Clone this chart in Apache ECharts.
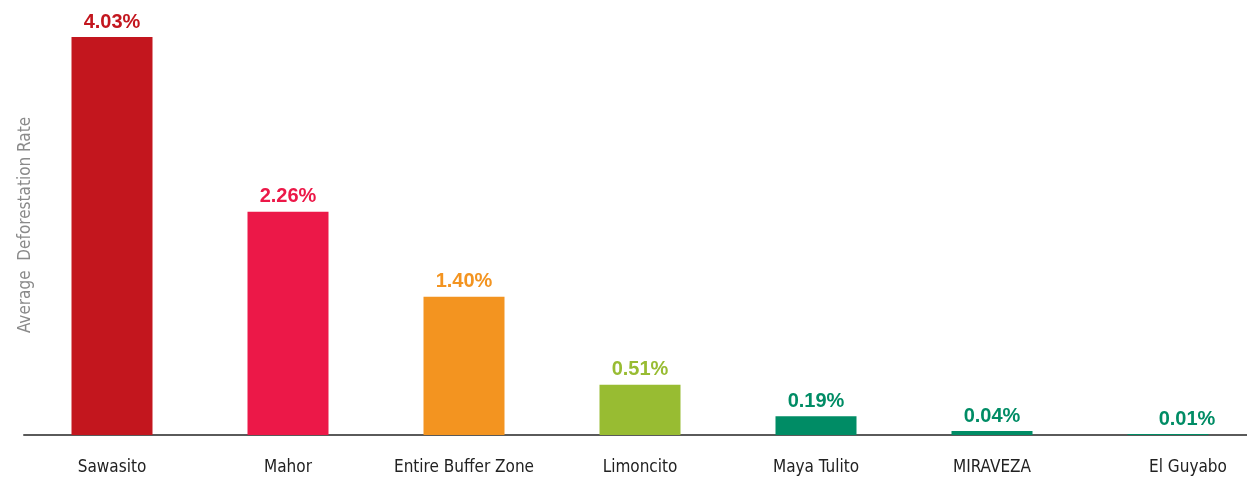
<!DOCTYPE html>
<html>
<head>
<meta charset="utf-8">
<script src="https://cdn.jsdelivr.net/npm/echarts@6/dist/echarts.min.js"></script>
<style>
  html, body { margin: 0; padding: 0; background: #fff; overflow: hidden; }
  /* the last band runs a bit past the right edge, so the chart is wider than the window */
  #grafico { width: 1262px; height: 477px; }
</style>
</head>
<body>
<div id="grafico"></div>
<script>
var categories = ['Sawasito', 'Mahor', 'Entire Buffer Zone', 'Limoncito', 'Maya Tulito', 'MIRAVEZA', 'El Guyabo'];
var rates = [4.03, 2.26, 1.40, 0.51, 0.19, 0.04, 0.01];
var barColors = ['#c3161e', '#ec1848', '#f39420', '#98bc32', '#008c65', '#008c65', '#008c65'];

var narrowFont = "'Liberation Sans Narrow', 'DejaVu Sans Condensed', sans-serif";

var chartDom = document.getElementById('grafico');
var myChart = echarts.init(chartDom);
var option;

// last category sits a little right of its bar in the original
var xData = categories.map(function (name, i) {
  if (i === categories.length - 1) {
    return { value: name, textStyle: { padding: [0, 0, 0, 40] } };
  }
  return name;
});

var barData = rates.map(function (v, i) {
  var item = {
    value: v,
    itemStyle: { color: barColors[i] },
    label: { color: barColors[i] }
  };
  if (i === rates.length - 1) {
    item.label.offset = [19, 0];
  }
  return item;
});

option = {
  animation: false,
  grid: { left: 24, width: 1232, top: 37, bottom: 42 },
  xAxis: {
    type: 'category',
    data: xData,
    axisLine: { lineStyle: { color: '#5a5a5a', width: 2 } },
    axisTick: { show: false },
    axisLabel: {
      interval: 0,
      color: '#222',
      fontFamily: narrowFont,
      fontSize: 17,
      margin: 24
    }
  },
  yAxis: {
    type: 'value',
    min: 0,
    max: 4.03,
    axisLine: { show: false },
    axisTick: { show: false },
    axisLabel: { show: false },
    splitLine: { show: false },
    name: 'Average  Deforestation Rate',
    nameLocation: 'middle',
    nameGap: -10,
    nameTextStyle: {
      color: '#8a8a8a',
      fontFamily: narrowFont,
      fontSize: 17,
      padding: [0, 0, 0, 22]
    }
  },
  series: [
    {
      type: 'bar',
      barWidth: 81,
      data: barData,
      label: {
        show: true,
        position: 'top',
        distance: 5,
        fontFamily: "'Liberation Sans', Arial, sans-serif",
        fontWeight: 'bold',
        fontSize: 20,
        formatter: function (p) { return p.value.toFixed(2) + '%'; }
      }
    }
  ]
};

option && myChart.setOption(option);
</script>
</body>
</html>
